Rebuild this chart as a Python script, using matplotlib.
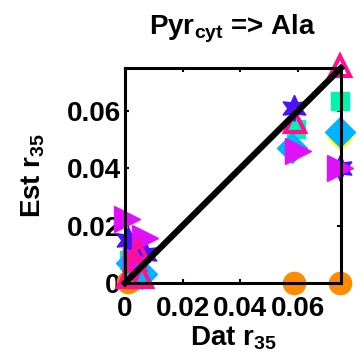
import numpy as np
import matplotlib
matplotlib.use('Agg')
import matplotlib.pyplot as plt

plt.rcParams['font.family'] = 'Liberation Sans'
plt.rcParams['font.weight'] = 'bold'
plt.rcParams['mathtext.fontset'] = 'custom'
plt.rcParams['mathtext.rm'] = 'Liberation Sans:bold'
plt.rcParams['mathtext.it'] = 'Liberation Sans:bold'
plt.rcParams['mathtext.bf'] = 'Liberation Sans:bold'

# data vs estimated flux ratio r35, one entry per model variant
orange_x = [0.0010, 0.0020, 0.0586, 0.0745]
orange_y = [0.0005, 0.0010, 0.0000, 0.0000]

yellow_x = [0.0025, 0.0745]
yellow_y = [0.0050, 0.0505]

teal_x = [0.0015, 0.0050, 0.0593, 0.0745]
teal_y = [0.0080, 0.0060, 0.0537, 0.0635]

cyan_x = [0.0020, 0.0060, 0.0580, 0.0745]
cyan_y = [0.0070, 0.0030, 0.0470, 0.0524]

star_x = [0.0010, 0.0040, 0.0070, 0.0586, 0.0745]
star_y = [0.0150, 0.0120, 0.0100, 0.0610, 0.0400]

magenta_x = [0.0008, 0.0069, 0.0040, 0.0600, 0.0745]
magenta_y = [0.0223, 0.0157, 0.0080, 0.0460, 0.0400]

pink_x = [0.0010, 0.0035, 0.0060, 0.0045, 0.0590, 0.0745]
pink_y = [0.0020, 0.0080, 0.0020, 0.0110, 0.0560, 0.0755]

fig = plt.figure(figsize=(3.6, 3.62), dpi=100)
ax = fig.add_axes([0.347, 0.218, 0.600, 0.594])

ax.plot(orange_x, orange_y, 'o', color='#ff8c00', markersize=16, clip_on=False)
ax.plot(yellow_x, yellow_y, 'D', color='#ffff00', markersize=12, clip_on=False)
ax.plot(teal_x, teal_y, 's', color='#00f5b0', markersize=13, clip_on=False)
ax.plot(cyan_x, cyan_y, 'D', color='#00b4ff', markersize=15, clip_on=False)
ax.plot(star_x, star_y, marker=(6, 1, 0), linestyle='none', color='#4a10ff',
        markersize=19, clip_on=False)
ax.plot(magenta_x, magenta_y, '>', color='#e010f8', markersize=19, clip_on=False)
ax.plot(pink_x, pink_y, '^', markerfacecolor='none', markeredgecolor='#ff1090',
        markeredgewidth=3, markersize=15, clip_on=False)

lim = 0.0748
ax.plot([0, lim], [0, lim], color='black', linewidth=4.5, clip_on=False)

ax.set_xlim(0, lim)
ax.set_ylim(0, lim)
ax.set_xticks([0, 0.02, 0.04, 0.06])
ax.set_xticklabels(['0', '0.02', '0.04', '0.06'])
ax.set_yticks([0, 0.02, 0.04, 0.06])
ax.set_yticklabels(['0', '0.02', '0.04', '0.06'])
ax.tick_params(direction='in', length=3, width=1.5, labelsize=20,
               top=True, right=True, pad=3)
ax.tick_params(axis='x', pad=9)
for s in ax.spines.values():
    s.set_linewidth(2.2)

ax.set_xlabel(r'Dat r$_{\mathrm{35}}$', fontsize=20, fontweight='bold', labelpad=2)
ax.set_ylabel(r'Est r$_{\mathrm{35}}$', fontsize=20, fontweight='bold', labelpad=14)
ax.set_title(r'Pyr$_{\mathrm{cyt}}$ => Ala', fontsize=20, fontweight='bold', pad=24)

fig.savefig('out.png', dpi=100)
